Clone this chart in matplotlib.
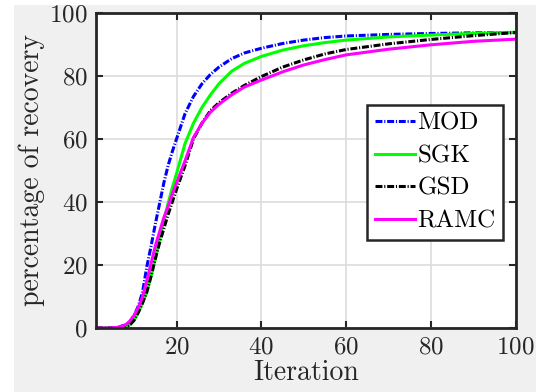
import matplotlib
matplotlib.use('Agg')
import matplotlib.pyplot as plt
from matplotlib.patches import Rectangle

# Iteration points
iters = [1, 4, 6, 8, 9, 10, 11, 12, 13, 14, 15, 16, 17, 18, 19, 20, 22, 24, 26, 28,
         30, 33, 36, 40, 45, 50, 55, 60, 70, 80, 90, 100]

mod = [0, 0, 0.1, 1, 2, 4, 7, 11.5, 19.5, 26, 33, 39.5, 46, 51.5, 56, 60, 68, 73.5, 77.5, 80.5,
       82.8, 85.5, 87.3, 88.8, 90.3, 91.4, 92.2, 92.7, 93.2, 93.5, 93.7, 93.8]
sgk = [0, 0, 0, 0.3, 1, 2.5, 5, 8, 11.5, 16.5, 22, 28, 34, 39.5, 44.5, 49, 58.5, 65, 70, 74,
       77.5, 81.5, 84, 86.2, 88.2, 89.6, 90.6, 91.4, 92.4, 93, 93.5, 93.9]
gsd = [0, 0, 0, 0.3, 1, 2.5, 5, 8, 11.5, 16.5, 22, 27, 31.5, 36, 40, 44, 51.5, 60, 65, 69,
       71.5, 74.5, 77, 79.8, 82.8, 85.1, 87, 88.4, 90.2, 91.6, 92.8, 93.8]
ramc = [0, 0, 0.2, 1, 2.2, 4, 6.5, 10, 15, 20.5, 26, 30.5, 35, 38.5, 42.5, 46, 53, 60.5, 65, 68.5,
        71, 74, 76.5, 78.7, 81.3, 83.5, 85.2, 86.7, 88.5, 89.9, 91, 91.7]

labels = ['MOD', 'SGK', 'GSD', 'RAMC']
colors = ['#0000ff', '#00ff00', '#000000', '#ff00ff']

plt.rcParams['font.family'] = 'cmr10'
plt.rcParams['axes.formatter.use_mathtext'] = True
plt.rcParams['lines.scale_dashes'] = False

fig = plt.figure(figsize=(5.49, 3.92), dpi=100, facecolor='white')
# grey MATLAB figure background
fig.patches.append(Rectangle((14 / 549, 0), (536 - 14) / 549, 1 - 5 / 392,
                             transform=fig.transFigure, facecolor='#f0f0f0',
                             edgecolor='none', zorder=-10))

ax = fig.add_axes([96 / 549, 1 - 328 / 392, (515.5 - 96) / 549, (328 - 13) / 392])

dashdot = (0, (5, 1.3, 0.8, 1.3))
styles = [dashdot, '-', dashdot, '-']
for ys, lab, col, ls in zip([mod, sgk, gsd, ramc], labels, colors, styles):
    ax.plot(iters, ys, color=col, linestyle=ls, linewidth=2.2, label=lab)

ax.set_xlim(1, 100)
ax.set_ylim(0, 100)
ax.set_xticks([20, 40, 60, 80, 100])
ax.set_yticks([0, 20, 40, 60, 80, 100])
ax.grid(True, color='#dcdcdc', linewidth=1.2)
ax.set_axisbelow(True)
ax.tick_params(direction='in', top=True, right=True, length=5, width=1.5,
               labelsize=18, colors='#262626', pad=6)
for s in ax.spines.values():
    s.set_linewidth(2)
    s.set_color('#262626')

ax.set_xlabel('Iteration', fontsize=20, color='#262626', labelpad=1)
ax.set_ylabel('percentage of recovery', fontsize=20, color='#262626', labelpad=3)

leg = ax.legend(loc='upper right', bbox_to_anchor=(0.970, 0.708), fontsize=18,
                fancybox=False, framealpha=1, edgecolor='#262626',
                handlelength=1.6, handletextpad=0.1, labelspacing=0.4,
                borderpad=0.3, borderaxespad=0)
leg.get_frame().set_linewidth(1.8)

fig.savefig('out.png', dpi=100, facecolor=fig.get_facecolor())
